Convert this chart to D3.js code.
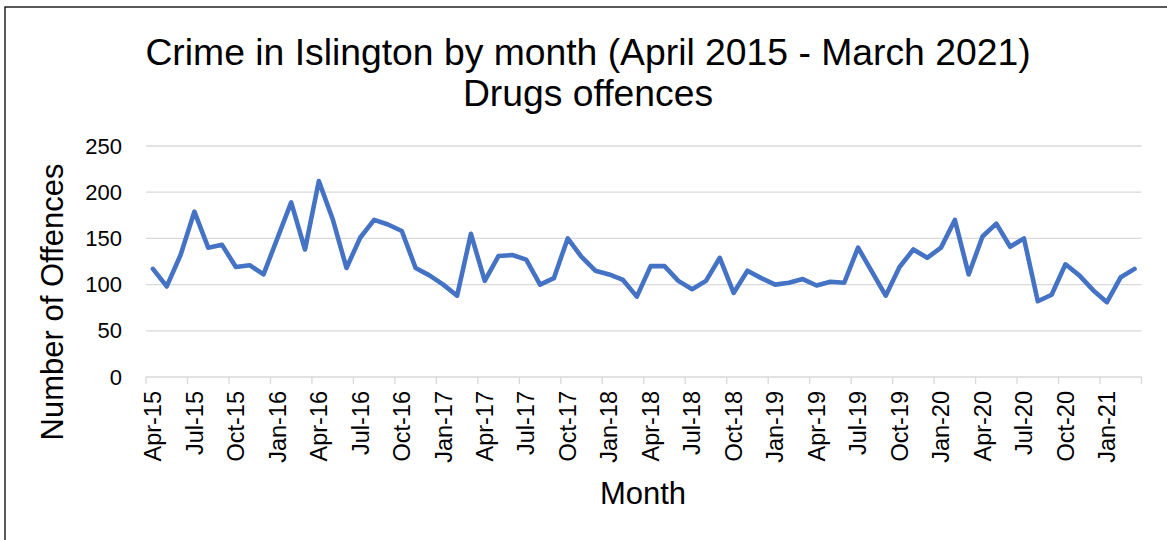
<!DOCTYPE html>
<html>
<head>
<meta charset="utf-8">
<script src="https://cdn.jsdelivr.net/npm/d3@7"></script>
<style>
  html, body { margin: 0; padding: 0; background: #fff; }
  svg { display: block; font-family: "Liberation Sans", Arial, sans-serif; }
</style>
</head>
<body>
<svg id="chart" width="1167" height="540"></svg>
<script>
const months = [
  "Apr-15","May-15","Jun-15","Jul-15","Aug-15","Sep-15","Oct-15","Nov-15","Dec-15","Jan-16","Feb-16","Mar-16",
  "Apr-16","May-16","Jun-16","Jul-16","Aug-16","Sep-16","Oct-16","Nov-16","Dec-16","Jan-17","Feb-17","Mar-17",
  "Apr-17","May-17","Jun-17","Jul-17","Aug-17","Sep-17","Oct-17","Nov-17","Dec-17","Jan-18","Feb-18","Mar-18",
  "Apr-18","May-18","Jun-18","Jul-18","Aug-18","Sep-18","Oct-18","Nov-18","Dec-18","Jan-19","Feb-19","Mar-19",
  "Apr-19","May-19","Jun-19","Jul-19","Aug-19","Sep-19","Oct-19","Nov-19","Dec-19","Jan-20","Feb-20","Mar-20",
  "Apr-20","May-20","Jun-20","Jul-20","Aug-20","Sep-20","Oct-20","Nov-20","Dec-20","Jan-21","Feb-21","Mar-21"
];
const offences = [
  117, 98, 132, 179, 140, 143, 119, 121, 111, 150, 189, 138,
  212, 171, 118, 151, 170, 165, 158, 118, 110, 100, 88, 155,
  104, 131, 132, 127, 100, 107, 150, 130, 115, 111, 105, 87,
  120, 120, 104, 95, 104, 129, 91, 115, 107, 100, 102, 106,
  99, 103, 102, 140, 114, 88, 119, 138, 129, 140, 170, 111,
  152, 166, 141, 150, 82, 89, 122, 110, 94, 81, 108, 117
];
const yTicks = [0, 50, 100, 150, 200, 250];
const xTickLabels = months.filter((m, i) => i % 3 === 0);
const titleLines = ["Crime in Islington by month (April 2015 - March 2021)", "Drugs offences"];
const xTitle = "Month";
const yTitle = "Number of Offences";

const svg = d3.select("#chart");
const plot = { left: 146, right: 1141.5, top: 146, bottom: 377 };

// chart border
svg.append("rect")
  .attr("x", 5).attr("y", 7).attr("width", 1300).attr("height", 700)
  .attr("fill", "#fff").attr("stroke", "#000").attr("stroke-width", 1.3);

const x = d3.scaleBand().domain(months).range([plot.left, plot.right]).padding(0);
const y = d3.scaleLinear().domain([0, 250]).range([plot.bottom, plot.top]);

// gridlines
svg.append("g").selectAll("line").data(yTicks.filter(d => d > 0)).join("line")
  .attr("x1", plot.left).attr("x2", plot.right)
  .attr("y1", d => y(d)).attr("y2", d => y(d))
  .attr("stroke", "#d9d9d9").attr("stroke-width", 1.3);

// y axis labels
const yAxis = d3.axisLeft(y).tickValues(yTicks).tickSize(0).tickPadding(24);
const gy = svg.append("g").attr("transform", `translate(${plot.left},0)`).call(yAxis);
gy.select(".domain").remove();
gy.selectAll("text").attr("font-size", 22).attr("fill", "#000")
  .attr("font-family", "'Liberation Sans', Arial, sans-serif");

// x axis line and tick marks (between categories)
svg.append("line")
  .attr("x1", plot.left).attr("x2", plot.right)
  .attr("y1", y(0)).attr("y2", y(0))
  .attr("stroke", "#d9d9d9").attr("stroke-width", 1.3);
const tickPos = xTickLabels.map(m => x(m)).concat([plot.right]);
svg.append("g").selectAll("line").data(tickPos).join("line")
  .attr("x1", d => d).attr("x2", d => d)
  .attr("y1", y(0)).attr("y2", y(0) + 7)
  .attr("stroke", "#d9d9d9").attr("stroke-width", 1.3);

// x axis labels (rotated)
const xAxis = d3.axisBottom(x).tickValues(xTickLabels).tickSize(0).tickPadding(0);
const gx = svg.append("g").attr("transform", `translate(0,${plot.bottom})`).call(xAxis);
gx.select(".domain").remove();
gx.selectAll("text")
  .attr("font-size", 23.5).attr("fill", "#000")
  .attr("font-family", "'Liberation Sans', Arial, sans-serif")
  .attr("transform", "rotate(-90)")
  .attr("text-anchor", "end")
  .attr("x", -14).attr("y", 0).attr("dy", "0.35em");

// line
const line = d3.line()
  .x((d, i) => x(months[i]) + x.bandwidth() / 2)
  .y(d => y(d));
svg.append("path").datum(offences)
  .attr("d", line)
  .attr("fill", "none").attr("stroke", "#4472C4")
  .attr("stroke-width", 4.6).attr("stroke-linejoin", "round").attr("stroke-linecap", "round");

// titles
svg.append("text").attr("x", 588).attr("y", 64.5).attr("text-anchor", "middle")
  .attr("font-size", 37.3).attr("fill", "#000").text(titleLines[0]);
svg.append("text").attr("x", 588).attr("y", 105.5).attr("text-anchor", "middle")
  .attr("font-size", 37.3).attr("fill", "#000").text(titleLines[1]);

svg.append("text").attr("x", 643).attr("y", 504).attr("text-anchor", "middle")
  .attr("font-size", 31).attr("fill", "#000").text(xTitle);

svg.append("text").attr("transform", "translate(63,302) rotate(-90)").attr("text-anchor", "middle")
  .attr("font-size", 31).attr("fill", "#000").text(yTitle);
</script>
</body>
</html>
